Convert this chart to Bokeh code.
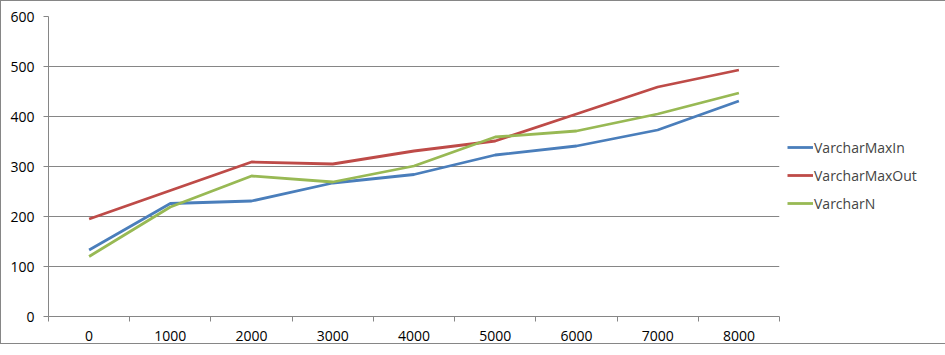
from bokeh.plotting import figure
from bokeh.models import Range1d, FixedTicker, Legend, LegendItem
from bokeh.embed import file_html
from bokeh.resources import INLINE

categories = [0, 1000, 2000, 3000, 4000, 5000, 6000, 7000, 8000]
varchar_max_in = [133, 226, 231, 267, 284, 323, 341, 373, 431]
varchar_max_out = [195, 252, 309, 305, 331, 351, 405, 459, 493]
varchar_n = [120, 219, 281, 269, 301, 359, 371, 405, 447]
y_ticks = [0, 100, 200, 300, 400, 500, 600]

FONT = "Open Sans"
GRID = "#868686"

p = figure(frame_width=731, frame_height=300, output_backend="svg", toolbar_location=None,
           x_range=Range1d(-500, 8500), y_range=Range1d(0, 600),
           min_border_left=47, min_border_right=149, min_border_top=15, min_border_bottom=22)
p.outline_line_color = None
p.styles = {"border": "1px solid #868686"}

r1 = p.line(categories, varchar_max_in, line_color="#4A7EBB", line_width=2.8)
r2 = p.line(categories, varchar_max_out, line_color="#BE4B48", line_width=2.8)
r3 = p.line(categories, varchar_n, line_color="#98B954", line_width=2.8)

minor = [c - 500 for c in categories] + [categories[-1] + 500]
p.xaxis.ticker = FixedTicker(ticks=categories, minor_ticks=minor)
p.xaxis.major_tick_out = 0
p.xaxis.major_tick_in = 0
p.xaxis.minor_tick_out = 5
p.xaxis.minor_tick_in = 0
p.xaxis.minor_tick_line_color = GRID
p.xaxis.axis_line_color = GRID
p.xaxis.major_label_standoff = 9
p.xgrid.grid_line_color = None

p.yaxis.ticker = FixedTicker(ticks=y_ticks)
p.yaxis.minor_tick_line_color = None
p.yaxis.major_tick_out = 5
p.yaxis.major_tick_in = 0
p.yaxis.major_tick_line_color = GRID
p.yaxis.axis_line_color = GRID
p.yaxis.major_label_standoff = 9
p.ygrid.grid_line_color = GRID
p.ygrid.ticker = FixedTicker(ticks=y_ticks)

for ax in (p.xaxis, p.yaxis):
    ax.major_label_text_font = FONT
    ax.major_label_text_font_size = "14px"
    ax.major_label_text_color = "#000000"

legend = Legend(items=[LegendItem(label="VarcharMaxIn", renderers=[r1]),
                       LegendItem(label="VarcharMaxOut", renderers=[r2]),
                       LegendItem(label="VarcharN", renderers=[r3])],
                location="left")
legend.label_text_font = FONT
legend.label_text_font_size = "14px"
legend.glyph_width = 26
legend.label_standoff = 1
legend.spacing = 8
legend.background_fill_alpha = 0
legend.border_line_color = None
legend.padding = 0
legend.margin = 8
legend.title = " "
legend.title_text_font_size = "14px"
legend.title_standoff = 2
p.add_layout(legend, "right")

open("out.html", "w").write(file_html(p, INLINE))
